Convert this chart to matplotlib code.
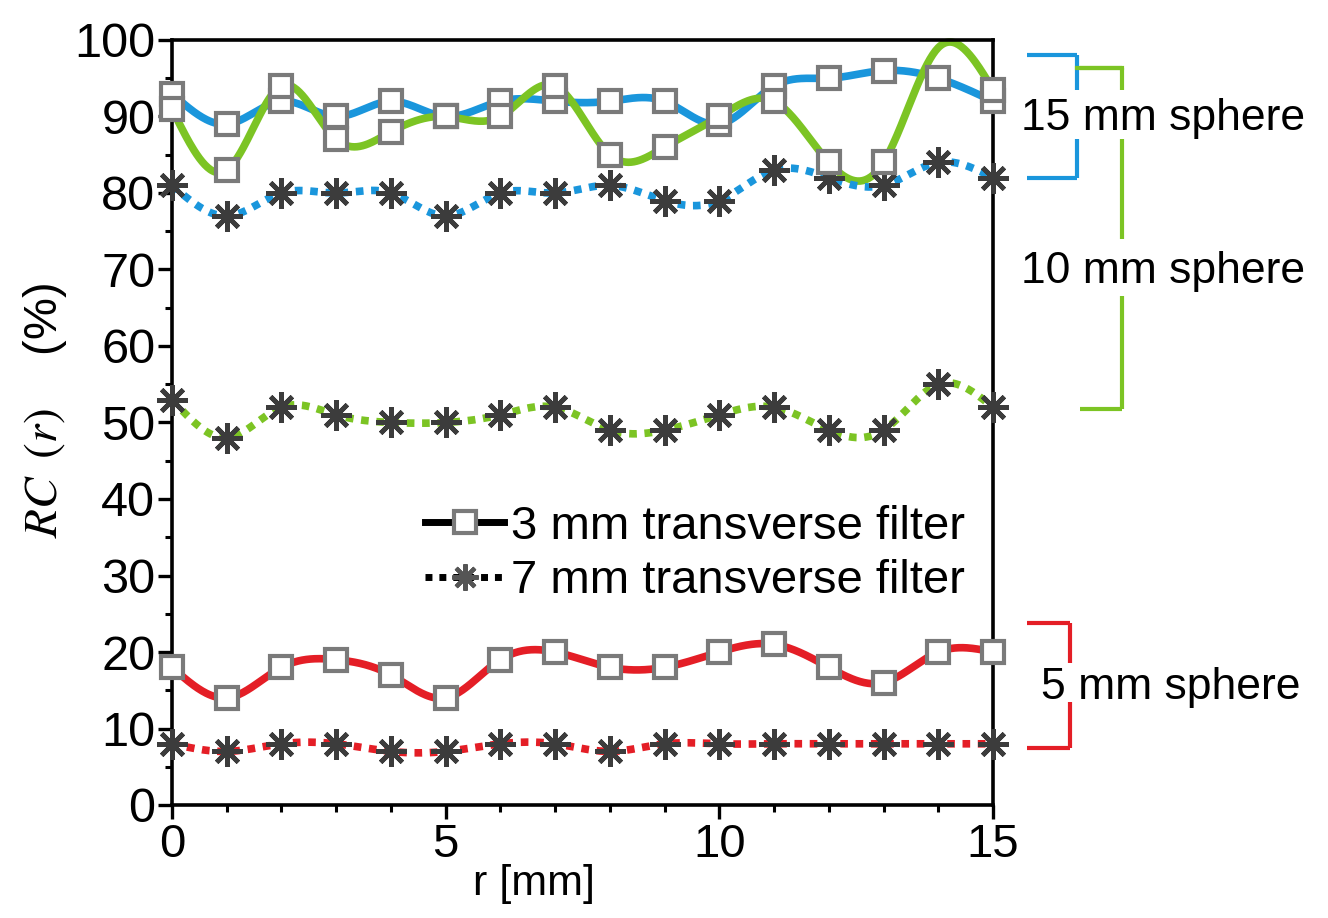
import numpy as np
import matplotlib
matplotlib.use("Agg")
import matplotlib.pyplot as plt
from matplotlib.lines import Line2D
from matplotlib.ticker import MultipleLocator
from matplotlib import font_manager

r = list(range(16))
rc15_3mm = [93, 89, 92, 90, 92, 90, 92, 92, 92, 92, 89, 94, 95, 96, 95, 92]
rc15_7mm = [81, 77, 80, 80, 80, 77, 80, 80, 81, 79, 79, 83, 82, 81, 84, 82]
rc10_3mm = [91, 83, 94, 87, 88, 90, 90, 94, 85, 86, 90, 92, 84, 84, 99, 93.5]
rc10_7mm = [53, 48, 52, 51, 50, 50, 51, 52, 49, 49, 51, 52, 49, 49, 55, 52]
rc5_3mm = [18, 14, 18, 19, 17, 14, 19, 20, 18, 18, 20, 21, 18, 16, 20, 20]
rc5_7mm = [8, 7, 8, 8, 7, 7, 8, 8, 7, 8, 8, 8, 8, 8, 8, 8]

sphere_labels = ["15 mm sphere", "10 mm sphere", "5 mm sphere"]
legend_labels = ["3 mm transverse filter", "7 mm transverse filter"]

BLUE = "#1a96dc"
GREEN = "#7cc424"
RED = "#e41e26"
SQ_EDGE = "#7a7a7a"
STAR = "#3c3c3c"

names = {f.name for f in font_manager.fontManager.ttflist}
if "Liberation Sans Narrow" in names:
    NARROW = "Liberation Sans Narrow"
    xt_size, xl_size = 43, 39
else:
    NARROW = "Liberation Sans"
    xt_size, xl_size = 34, 31

plt.rcParams["font.family"] = ["Liberation Sans", "DejaVu Sans"]
plt.rcParams["mathtext.fontset"] = "stix"


def spline_curve(x, y, n=600):
    # natural cubic spline, like Origin's "spline" connection
    x = np.asarray(x, float)
    y = np.asarray(y, float)
    m = len(x)
    h = np.diff(x)
    A = np.zeros((m, m))
    b = np.zeros(m)
    A[0, 0] = 1
    A[-1, -1] = 1
    for i in range(1, m - 1):
        A[i, i - 1] = h[i - 1]
        A[i, i] = 2 * (h[i - 1] + h[i])
        A[i, i + 1] = h[i]
        b[i] = 6 * ((y[i + 1] - y[i]) / h[i] - (y[i] - y[i - 1]) / h[i - 1])
    M = np.linalg.solve(A, b)
    xs = np.linspace(x[0], x[-1], n)
    k = np.clip(np.searchsorted(x, xs) - 1, 0, m - 2)
    t0 = x[k + 1] - xs
    t1 = xs - x[k]
    hk = h[k]
    ys = (M[k] * t0 ** 3 + M[k + 1] * t1 ** 3) / (6 * hk) \
        + (y[k] / hk - M[k] * hk / 6) * t0 + (y[k + 1] / hk - M[k + 1] * hk / 6) * t1
    return xs, ys


fig = plt.figure(figsize=(13.28, 9.18), dpi=100)
W, H = 1328, 918
ax = fig.add_axes([172 / W, 1 - 805 / H, 821 / W, 765 / H])

LW = 5.5
dotted = (0, (1, 1))

series = [
    (rc15_3mm, BLUE, "-", "s"),
    (rc10_3mm, GREEN, "-", "s"),
    (rc5_3mm, RED, "-", "s"),
    (rc15_7mm, BLUE, dotted, "*"),
    (rc10_7mm, GREEN, dotted, "*"),
    (rc5_7mm, RED, dotted, "*"),
]

for vals, col, ls, _ in series:
    xs, ys = spline_curve(r, vals)
    ax.plot(xs, ys, color=col, lw=LW, ls=ls, solid_capstyle="butt",
            dash_capstyle="butt", zorder=2, clip_on=False)

for vals, col, ls, mk in series:
    if mk == "s":
        every = [i for i in range(len(r)) if not (vals is rc10_3mm and i == 14)]
        ax.plot(r, vals, ls="none", marker="s", ms=15.5, mfc="white",
                mec=SQ_EDGE, mew=3.0, markevery=every, zorder=4, clip_on=False)
    else:
        ax.plot(r, vals, ls="none", marker=(8, 2, 0), ms=22, mec=STAR,
                mew=3.4, zorder=3, clip_on=False)

ax.set_xlim(0, 15)
ax.set_ylim(0, 100)
ax.xaxis.set_major_locator(MultipleLocator(5))
ax.xaxis.set_minor_locator(MultipleLocator(1))
ax.yaxis.set_major_locator(MultipleLocator(10))
ax.yaxis.set_minor_locator(MultipleLocator(5))
ax.tick_params(which="major", direction="out", length=10, width=2.4,
               top=False, right=False)
ax.tick_params(which="minor", direction="out", length=5, width=2.2,
               top=False, right=False)
ax.tick_params(axis="y", which="major", labelsize=35, pad=2)
ax.tick_params(axis="x", which="major", labelsize=xt_size, pad=3)
for lab in ax.get_xticklabels():
    lab.set_fontfamily(NARROW)
for sp in ax.spines.values():
    sp.set_linewidth(2.6)

fig.text(534 / W, 1 - 884 / H, "r [mm]", fontsize=xl_size, family=NARROW,
         ha="center", va="center")
fig.text(45 / W, 1 - 411 / H, r"$RC\;\;(r)$" + "    (%)", fontsize=34,
         rotation=90, ha="center", va="center")

# legend
h1 = Line2D([], [], color="black", lw=5, ls="-", marker="s", ms=15.5,
            mfc="white", mec=SQ_EDGE, mew=3.0)
h2 = Line2D([], [], color="black", lw=5, ls=dotted, marker=(8, 2, 0), ms=19,
            mec="#555555", mew=3)
ax.legend([h1, h2], legend_labels, loc="center left",
          bbox_to_anchor=((425 - 172) / 821, (805 - 554) / 765),
          frameon=False, borderpad=0, borderaxespad=0, handlelength=1.68,
          handletextpad=0.15, labelspacing=0.22,
          prop={"size": 34})

# sphere brackets on the right
def bracket(xl, xr, y_top, y_bot, gaps, col):
    kw = dict(color=col, lw=3, clip_on=False, solid_capstyle="butt")
    ax.plot([xl, xr], [y_top, y_top], **kw)
    ax.plot([xl, xr], [y_bot, y_bot], **kw)
    pts = [y_top] + [g for pair in gaps for g in pair] + [y_bot]
    for a, b in zip(pts[0::2], pts[1::2]):
        ax.plot([xr, xr], [a, b], **kw)

bracket(15.62, 16.54, 98.0, 82.0, [(93.5, 87.0)], BLUE)
bracket(16.59, 17.36, 96.3, 51.8, [(93.5, 87.0), (74.0, 66.5)], GREEN)
ax.plot([16.54, 17.36], [96.3, 96.3], color=GREEN, lw=3, clip_on=False)
bracket(15.62, 16.41, 23.8, 7.5, [(18.5, 13.5)], RED)

ax.text(15.52, 89.8, sphere_labels[0], fontsize=32, ha="left", va="center")
ax.text(15.52, 69.8, sphere_labels[1], fontsize=32, ha="left", va="center")
ax.text(15.87, 15.3, sphere_labels[2], fontsize=32, ha="left", va="center")

fig.savefig("out.png", dpi=100)
